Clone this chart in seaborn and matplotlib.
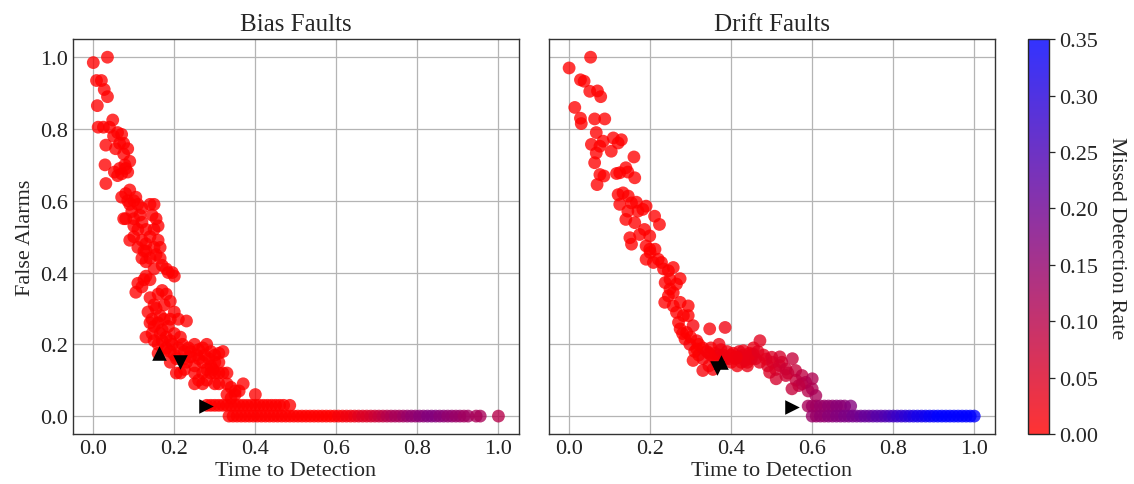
import matplotlib
matplotlib.use("Agg")
import matplotlib.pyplot as plt
import seaborn as sns
import numpy as np
import pandas as pd
from matplotlib.colors import LinearSegmentedColormap, Normalize
from matplotlib.cm import ScalarMappable

# ---------------- data ----------------
# Bias faults: time to detection, false alarms, missed detection rate
bias_ttd = [
    0.000, 0.035, 0.008, 0.020, 0.027, 0.035, 0.010, 0.012, 0.025, 0.040, 0.048, 0.031, 0.029, 0.031, 0.050,
    0.060, 0.070, 0.065, 0.075, 0.055, 0.052, 0.065, 0.078, 0.090, 0.085, 0.070, 0.060, 0.075, 0.085, 0.080,
    0.070, 0.080, 0.090, 0.085, 0.100, 0.110, 0.095, 0.120, 0.140, 0.150, 0.075, 0.105,
    0.080, 0.100, 0.120, 0.145, 0.155, 0.130, 0.110, 0.150, 0.160, 0.090, 0.100, 0.120, 0.130, 0.140, 0.160,
    0.110, 0.125, 0.150, 0.165, 0.120, 0.130, 0.140, 0.155, 0.165, 0.170, 0.150, 0.180, 0.195, 0.200, 0.185,
    0.110, 0.105, 0.125, 0.130, 0.140, 0.120, 0.140, 0.150, 0.160, 0.170, 0.180, 0.190, 0.155, 0.175,
    0.200, 0.210, 0.190, 0.165, 0.230, 0.140, 0.150, 0.145, 0.130, 0.150, 0.170, 0.180, 0.190, 0.200, 0.215,
    0.220, 0.160, 0.180,
    0.135, 0.145, 0.160, 0.175, 0.185, 0.170, 0.195, 0.205, 0.225, 0.240, 0.255, 0.275, 0.285, 0.295, 0.165,
    0.175, 0.100, 0.115, 0.130, 0.090, 0.260, 0.280, 0.350, 0.360,
    0.160, 0.190, 0.200, 0.210, 0.225, 0.235, 0.250, 0.260, 0.270, 0.280, 0.260, 0.240, 0.230, 0.290, 0.300,
    0.310, 0.320, 0.300, 0.310, 0.290, 0.270, 0.250, 0.190, 0.205, 0.215,
    0.250, 0.270, 0.280, 0.290, 0.300, 0.310, 0.320, 0.330, 0.250, 0.270, 0.300, 0.310, 0.330, 0.340, 0.370,
    0.330, 0.340, 0.350, 0.400, 0.225,
    0.280, 0.290, 0.300, 0.310, 0.320, 0.330, 0.340, 0.350, 0.360, 0.370, 0.380, 0.390, 0.400, 0.410, 0.420,
    0.430, 0.440, 0.450, 0.460, 0.470, 0.485,
    0.335, 0.345, 0.355, 0.365, 0.375, 0.385, 0.395, 0.405, 0.415, 0.425, 0.435, 0.445, 0.455, 0.465, 0.475,
    0.485, 0.495, 0.505, 0.515, 0.525, 0.535, 0.545, 0.555, 0.565, 0.575, 0.585, 0.595, 0.605, 0.615, 0.625,
    0.635, 0.645, 0.655, 0.665, 0.675, 0.685, 0.695, 0.705, 0.715, 0.725, 0.735, 0.745, 0.755, 0.765, 0.775,
    0.785, 0.795, 0.805, 0.815, 0.825, 0.835, 0.845, 0.855, 0.865, 0.875, 0.885, 0.895, 0.905, 0.915, 0.925,
    0.945, 0.955, 1.000,
]
bias_fa = [
    0.985, 1.000, 0.935, 0.935, 0.910, 0.890, 0.865, 0.805, 0.805, 0.805, 0.825, 0.755, 0.700, 0.648, 0.780,
    0.790, 0.785, 0.760, 0.760, 0.745, 0.680, 0.690, 0.700, 0.710, 0.680, 0.675, 0.670, 0.730, 0.745, 0.690,
    0.610, 0.620, 0.630, 0.600, 0.600, 0.590, 0.570, 0.580, 0.590, 0.590, 0.550, 0.610,
    0.550, 0.550, 0.540, 0.560, 0.550, 0.520, 0.520, 0.520, 0.530, 0.490, 0.500, 0.490, 0.480, 0.500, 0.490,
    0.470, 0.460, 0.470, 0.470, 0.440, 0.430, 0.440, 0.450, 0.440, 0.420, 0.410, 0.410, 0.400, 0.390, 0.400,
    0.370, 0.345, 0.380, 0.390, 0.380, 0.360, 0.330, 0.310, 0.340, 0.350, 0.340, 0.320, 0.300, 0.310,
    0.290, 0.270, 0.270, 0.280, 0.265, 0.260, 0.250, 0.230, 0.220, 0.210, 0.240, 0.220, 0.210, 0.230, 0.220,
    0.200, 0.200, 0.190,
    0.290, 0.270, 0.260, 0.270, 0.250, 0.210, 0.200, 0.160, 0.160, 0.180, 0.170, 0.170, 0.160, 0.130, 0.230,
    0.180, 0.530, 0.560, 0.460, 0.590, 0.100, 0.100, 0.070, 0.070,
    0.175, 0.180, 0.170, 0.190, 0.180, 0.190, 0.200, 0.185, 0.190, 0.200, 0.160, 0.165, 0.150, 0.180, 0.170,
    0.175, 0.180, 0.150, 0.150, 0.140, 0.150, 0.140, 0.150, 0.120, 0.120,
    0.120, 0.120, 0.130, 0.120, 0.120, 0.120, 0.120, 0.120, 0.090, 0.090, 0.090, 0.090, 0.090, 0.080, 0.090,
    0.060, 0.050, 0.060, 0.060, 0.130,
    0.030, 0.030, 0.030, 0.030, 0.030, 0.030, 0.030, 0.030, 0.030, 0.030, 0.030, 0.030, 0.030, 0.030, 0.030,
    0.030, 0.030, 0.030, 0.030, 0.030, 0.030,
    0.000, 0.000, 0.000, 0.000, 0.000, 0.000, 0.000, 0.000, 0.000, 0.000, 0.000, 0.000, 0.000, 0.000, 0.000,
    0.000, 0.000, 0.000, 0.000, 0.000, 0.000, 0.000, 0.000, 0.000, 0.000, 0.000, 0.000, 0.000, 0.000, 0.000,
    0.000, 0.000, 0.000, 0.000, 0.000, 0.000, 0.000, 0.000, 0.000, 0.000, 0.000, 0.000, 0.000, 0.000, 0.000,
    0.000, 0.000, 0.000, 0.000, 0.000, 0.000, 0.000, 0.000, 0.000, 0.000, 0.000, 0.000, 0.000, 0.000, 0.000,
    0.000, 0.000, 0.000,
]
bias_mdr = [
    0.00, 0.00, 0.00, 0.00, 0.00, 0.00, 0.00, 0.00, 0.00, 0.00, 0.00, 0.00, 0.00, 0.00, 0.00,
    0.00, 0.00, 0.00, 0.00, 0.00, 0.00, 0.00, 0.00, 0.00, 0.00, 0.00, 0.00, 0.00, 0.00, 0.00,
    0.00, 0.00, 0.00, 0.00, 0.00, 0.00, 0.00, 0.00, 0.00, 0.00, 0.00, 0.00,
    0.00, 0.00, 0.00, 0.00, 0.00, 0.00, 0.00, 0.00, 0.00, 0.00, 0.00, 0.00, 0.00, 0.00, 0.00,
    0.00, 0.00, 0.00, 0.00, 0.00, 0.00, 0.00, 0.00, 0.00, 0.00, 0.00, 0.00, 0.00, 0.00, 0.00,
    0.00, 0.00, 0.00, 0.00, 0.00, 0.00, 0.00, 0.00, 0.00, 0.00, 0.00, 0.00, 0.00, 0.00,
    0.00, 0.00, 0.00, 0.00, 0.00, 0.00, 0.00, 0.00, 0.00, 0.00, 0.00, 0.00, 0.00, 0.00, 0.00,
    0.00, 0.00, 0.00,
    0.00, 0.00, 0.00, 0.00, 0.00, 0.00, 0.00, 0.00, 0.00, 0.00, 0.00, 0.00, 0.00, 0.00, 0.00,
    0.00, 0.00, 0.00, 0.00, 0.00, 0.00, 0.00, 0.00, 0.00,
    0.00, 0.00, 0.00, 0.00, 0.00, 0.00, 0.00, 0.00, 0.00, 0.00, 0.00, 0.00, 0.00, 0.00, 0.00,
    0.00, 0.00, 0.00, 0.00, 0.00, 0.00, 0.00, 0.00, 0.00, 0.00,
    0.00, 0.00, 0.00, 0.00, 0.00, 0.00, 0.00, 0.00, 0.00, 0.00, 0.00, 0.00, 0.00, 0.00, 0.00,
    0.00, 0.00, 0.00, 0.00, 0.00,
    0.00, 0.00, 0.00, 0.00, 0.00, 0.00, 0.00, 0.00, 0.00, 0.00, 0.00, 0.00, 0.00, 0.00, 0.00,
    0.00, 0.00, 0.00, 0.00, 0.00, 0.00,
    0.00, 0.00, 0.00, 0.00, 0.00, 0.00, 0.00, 0.00, 0.00, 0.00, 0.00, 0.00, 0.00, 0.00, 0.00,
    0.00, 0.00, 0.00, 0.00, 0.00, 0.00, 0.00, 0.00, 0.00, 0.00, 0.00, 0.00, 0.01, 0.01, 0.02,
    0.02, 0.03, 0.04, 0.05, 0.05, 0.06, 0.07, 0.08, 0.09, 0.10, 0.11, 0.12, 0.12, 0.13, 0.14,
    0.15, 0.15, 0.16, 0.16, 0.17, 0.17, 0.17, 0.16, 0.16, 0.15, 0.15, 0.14, 0.14, 0.13, 0.13,
    0.12, 0.12, 0.10,
]

# Drift faults
drift_ttd = [
    0.000, 0.053, 0.028, 0.037, 0.051, 0.070, 0.078, 0.014, 0.028, 0.030, 0.063, 0.088, 0.067, 0.055, 0.076,
    0.084, 0.109, 0.121, 0.129, 0.104, 0.067, 0.063, 0.160, 0.076, 0.086, 0.069, 0.117, 0.125, 0.140, 0.145,
    0.162,
    0.121, 0.133, 0.146, 0.125, 0.154, 0.166, 0.145, 0.170, 0.182, 0.190, 0.211, 0.223, 0.150, 0.154, 0.174,
    0.186, 0.199, 0.140, 0.162, 0.190,
    0.190, 0.200, 0.212, 0.220, 0.228, 0.199, 0.208, 0.233, 0.245, 0.257, 0.249, 0.274, 0.237, 0.249, 0.265,
    0.257,
    0.236, 0.245, 0.257, 0.274, 0.294, 0.282, 0.270, 0.294, 0.274, 0.290, 0.306, 0.286, 0.315, 0.347, 0.385,
    0.298, 0.265,
    0.310, 0.320, 0.330, 0.340, 0.350, 0.360, 0.330, 0.345, 0.355, 0.370, 0.380, 0.390, 0.400, 0.410, 0.420,
    0.430, 0.440, 0.450, 0.370, 0.400, 0.425, 0.450, 0.455, 0.350, 0.365, 0.395, 0.415, 0.440, 0.306, 0.315,
    0.330, 0.345, 0.360, 0.375, 0.385, 0.405, 0.420, 0.445, 0.460, 0.480, 0.490, 0.510, 0.525, 0.540, 0.560,
    0.575, 0.590, 0.280, 0.300, 0.320,
    0.430, 0.454, 0.486, 0.502, 0.519, 0.535, 0.551, 0.470, 0.495, 0.511, 0.535, 0.559, 0.575, 0.584, 0.600,
    0.600, 0.609, 0.567, 0.550, 0.500, 0.434, 0.413, 0.520, 0.466, 0.471,
    0.590, 0.600, 0.610, 0.620, 0.630, 0.640, 0.650, 0.660, 0.670, 0.680, 0.695,
    0.600, 0.610, 0.620, 0.630, 0.640, 0.650, 0.660, 0.670, 0.680, 0.690, 0.700, 0.710, 0.720, 0.730, 0.740,
    0.750, 0.760, 0.770, 0.780, 0.790, 0.800, 0.810, 0.820, 0.830, 0.840, 0.850, 0.860, 0.870, 0.880, 0.890,
    0.900, 0.910, 0.920, 0.930, 0.940, 0.950, 0.960, 0.970, 0.980, 0.990, 1.000,
]
drift_fa = [
    0.970, 1.000, 0.937, 0.933, 0.905, 0.906, 0.890, 0.860, 0.830, 0.815, 0.828, 0.828, 0.790, 0.757, 0.752,
    0.766, 0.775, 0.761, 0.770, 0.738, 0.733, 0.706, 0.722, 0.673, 0.669, 0.645, 0.676, 0.678, 0.692, 0.680,
    0.664,
    0.617, 0.622, 0.613, 0.590, 0.594, 0.596, 0.571, 0.571, 0.576, 0.585, 0.557, 0.534, 0.497, 0.479, 0.506,
    0.520, 0.502, 0.548, 0.539, 0.474,
    0.437, 0.456, 0.465, 0.437, 0.428, 0.465, 0.428, 0.410, 0.405, 0.414, 0.381, 0.383, 0.372, 0.354, 0.368,
    0.344,
    0.317, 0.335, 0.307, 0.317, 0.307, 0.280, 0.261, 0.280, 0.243, 0.233, 0.252, 0.215, 0.210, 0.243, 0.247,
    0.200, 0.289,
    0.180, 0.170, 0.160, 0.180, 0.170, 0.160, 0.127, 0.140, 0.130, 0.200, 0.170, 0.180, 0.170, 0.160, 0.180,
    0.170, 0.150, 0.170, 0.170, 0.150, 0.150, 0.160, 0.190, 0.190, 0.150, 0.160, 0.140, 0.140, 0.155, 0.187,
    0.190, 0.175, 0.175, 0.185, 0.160, 0.175, 0.165, 0.175, 0.160, 0.170, 0.140, 0.130, 0.150, 0.120, 0.100,
    0.090, 0.070, 0.230, 0.220, 0.200,
    0.182, 0.173, 0.159, 0.150, 0.141, 0.131, 0.160, 0.150, 0.122, 0.104, 0.113, 0.127, 0.113, 0.094, 0.104,
    0.076, 0.057, 0.085, 0.076, 0.164, 0.155, 0.164, 0.165, 0.180, 0.210,
    0.028, 0.028, 0.028, 0.028, 0.028, 0.028, 0.028, 0.028, 0.028, 0.028, 0.028,
    0.000, 0.000, 0.000, 0.000, 0.000, 0.000, 0.000, 0.000, 0.000, 0.000, 0.000, 0.000, 0.000, 0.000, 0.000,
    0.000, 0.000, 0.000, 0.000, 0.000, 0.000, 0.000, 0.000, 0.000, 0.000, 0.000, 0.000, 0.000, 0.000, 0.000,
    0.000, 0.000, 0.000, 0.000, 0.000, 0.000, 0.000, 0.000, 0.000, 0.000, 0.000,
]
drift_mdr = [
    0.00, 0.00, 0.00, 0.00, 0.00, 0.00, 0.00, 0.00, 0.00, 0.00, 0.00, 0.00, 0.00, 0.00, 0.00,
    0.00, 0.00, 0.00, 0.00, 0.00, 0.00, 0.00, 0.00, 0.00, 0.00, 0.00, 0.00, 0.00, 0.00, 0.00,
    0.00,
    0.00, 0.00, 0.00, 0.00, 0.00, 0.00, 0.00, 0.00, 0.00, 0.00, 0.00, 0.00, 0.00, 0.00, 0.00,
    0.00, 0.00, 0.00, 0.00, 0.00,
    0.00, 0.00, 0.00, 0.00, 0.00, 0.00, 0.00, 0.00, 0.00, 0.00, 0.00, 0.00, 0.00, 0.00, 0.00,
    0.00,
    0.00, 0.00, 0.00, 0.00, 0.00, 0.00, 0.00, 0.00, 0.00, 0.00, 0.01, 0.00, 0.01, 0.01, 0.02,
    0.01, 0.00,
    0.00, 0.01, 0.01, 0.01, 0.01, 0.01, 0.01, 0.01, 0.01, 0.02, 0.02, 0.02, 0.02, 0.02, 0.03,
    0.03, 0.03, 0.03, 0.02, 0.02, 0.03, 0.03, 0.03, 0.01, 0.01, 0.02, 0.02, 0.03, 0.00, 0.00,
    0.01, 0.01, 0.01, 0.02, 0.02, 0.02, 0.03, 0.03, 0.04, 0.04, 0.05, 0.06, 0.06, 0.07, 0.08,
    0.09, 0.10, 0.00, 0.00, 0.00,
    0.03, 0.03, 0.04, 0.05, 0.06, 0.07, 0.08, 0.04, 0.05, 0.06, 0.07, 0.08, 0.09, 0.10, 0.11,
    0.11, 0.12, 0.09, 0.08, 0.05, 0.03, 0.02, 0.06, 0.04, 0.04,
    0.12, 0.13, 0.13, 0.14, 0.14, 0.15, 0.15, 0.16, 0.16, 0.16, 0.17,
    0.14, 0.14, 0.15, 0.15, 0.16, 0.16, 0.17, 0.17, 0.18, 0.18, 0.19, 0.19, 0.20, 0.21, 0.21,
    0.22, 0.23, 0.23, 0.24, 0.25, 0.26, 0.27, 0.28, 0.29, 0.30, 0.31, 0.32, 0.32, 0.33, 0.34,
    0.34, 0.35, 0.35, 0.35, 0.35, 0.35, 0.35, 0.35, 0.35, 0.35, 0.35,
]

# Selected operating points (black triangles)
bias_sel_ttd = [0.163, 0.213, 0.278]
bias_sel_fa = [0.177, 0.150, 0.029]
drift_sel_ttd = [0.374, 0.366, 0.550]
drift_sel_fa = [0.150, 0.133, 0.024]
sel_markers = ["^", "v", ">"]

panel_titles = ["Bias Faults", "Drift Faults"]
mdr_ticks = [0.00, 0.05, 0.10, 0.15, 0.20, 0.25, 0.30, 0.35]

# ---------------- style ----------------
sns.set_style("white")
plt.rcParams["font.family"] = ["Liberation Serif", "DejaVu Serif"]

cmap = LinearSegmentedColormap.from_list("red_blue", ["#ff0000", "#0000ff"])
cbar_cmap = LinearSegmentedColormap.from_list(
    "red_blue_a", [(1, 0, 0, 0.8), (0, 0, 1, 0.8)])
norm = Normalize(vmin=0.0, vmax=0.35)

fig = plt.figure(figsize=(11.34, 4.85), dpi=100)
ax1 = fig.add_axes([0.0644, 0.103, 0.393, 0.814])
ax2 = fig.add_axes([0.484, 0.103, 0.393, 0.814], sharey=ax1)
cax = fig.add_axes([0.9065, 0.103, 0.0185, 0.814])

panels = [
    (ax1, bias_ttd, bias_fa, bias_mdr, bias_sel_ttd, bias_sel_fa),
    (ax2, drift_ttd, drift_fa, drift_mdr, drift_sel_ttd, drift_sel_fa),
]

for i, (ax, ttd, fa, mdr, sel_x, sel_y) in enumerate(panels):
    df = pd.DataFrame({"ttd": ttd, "fa": fa, "mdr": mdr})
    sns.scatterplot(data=df, x="ttd", y="fa", hue="mdr", palette=cmap,
                    hue_norm=norm, s=85, alpha=0.78, linewidth=0,
                    legend=False, ax=ax, zorder=2)
    for mx, my, mk in zip(sel_x, sel_y, sel_markers):
        ax.scatter([mx], [my], marker=mk, s=110, color="black",
                   linewidths=0, zorder=3)

    ax.set_xlim(-0.05, 1.05)
    ax.set_ylim(-0.05, 1.05)
    ax.set_xticks([0.0, 0.2, 0.4, 0.6, 0.8, 1.0])
    ax.set_yticks([0.0, 0.2, 0.4, 0.6, 0.8, 1.0])
    ax.grid(True, color="#b4b4b4", linewidth=0.9)
    ax.set_axisbelow(True)
    ax.tick_params(direction="in", length=4, width=0.9, labelsize=16,
                   colors="#222222", labelcolor="#222222")
    for sp in ax.spines.values():
        sp.set_color("#333333")
        sp.set_linewidth(1.0)
    ax.set_title(panel_titles[i], fontsize=18, pad=7)
    ax.set_xlabel("Time to Detection", fontsize=16, labelpad=2)

ax1.set_ylabel("False Alarms", fontsize=16, labelpad=4)
ax2.set_ylabel("")
ax2.tick_params(labelleft=False)

sm = ScalarMappable(norm=norm, cmap=cbar_cmap)
sm.set_array([])
cb = fig.colorbar(sm, cax=cax, ticks=mdr_ticks)
cb.ax.set_yticklabels([f"{t:.2f}" for t in mdr_ticks])
cb.ax.tick_params(labelsize=16, direction="out", length=4, width=0.9)
cb.outline.set_linewidth(1.0)
cb.set_label("Missed Detection Rate", fontsize=16, rotation=270, labelpad=20)

fig.savefig("out.png", dpi=100)
